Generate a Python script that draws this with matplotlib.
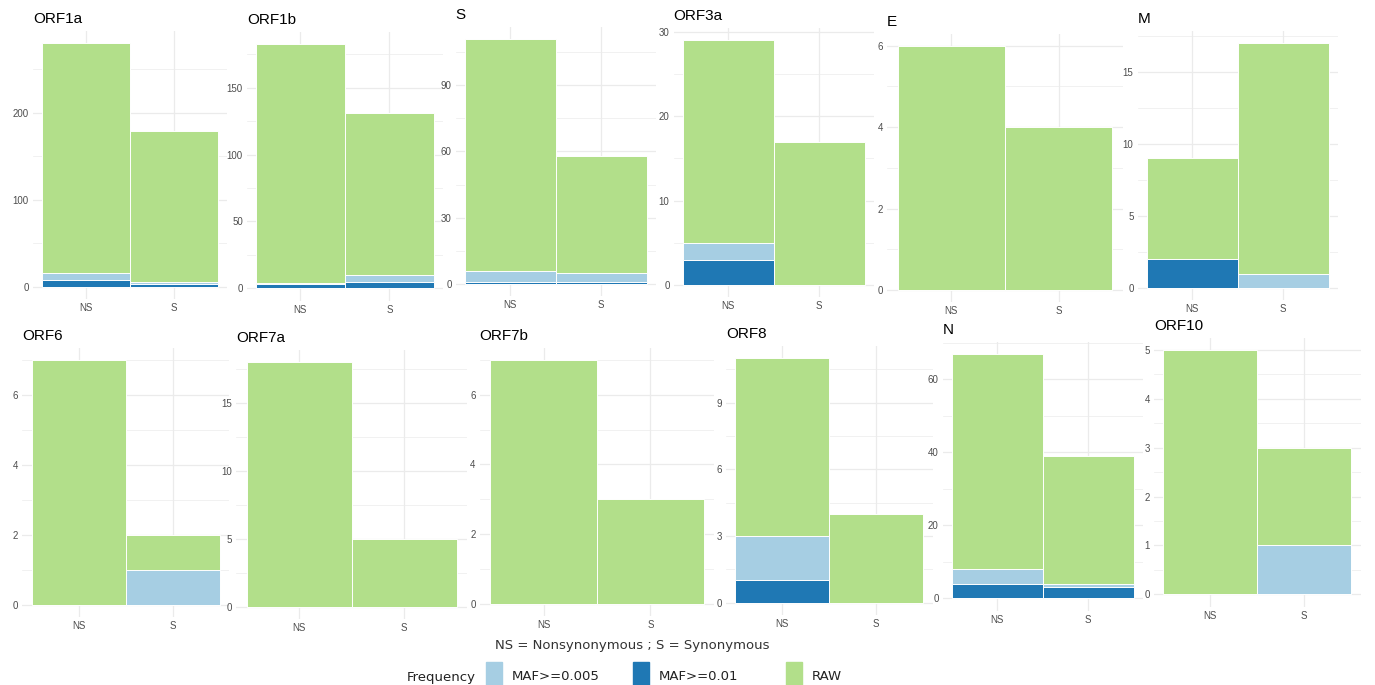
import numpy as np
import matplotlib
matplotlib.use("Agg")
import matplotlib.pyplot as plt
from matplotlib.patches import Rectangle

# ============================================================
# DATA  (variant counts per gene, NS / S)
# ============================================================

genes = ["ORF1a", "ORF1b", "S", "ORF3a", "E", "M",
         "ORF6", "ORF7a", "ORF7b", "ORF8", "N", "ORF10"]
classes = ["NS", "S"]

raw_ns = [280, 183, 111, 29, 6, 9, 7, 18, 7, 11, 67, 5]
raw_s = [179, 131, 58, 17, 4, 17, 2, 5, 3, 4, 39, 3]
maf005_ns = [16, 4, 6, 5, 0, 2, 0, 0, 0, 3, 8, 0]
maf005_s = [5, 10, 5, 0, 0, 1, 1, 0, 0, 0, 4, 1]
maf01_ns = [8, 3, 1, 3, 0, 2, 0, 0, 0, 1, 4, 0]
maf01_s = [3, 5, 1, 0, 0, 0, 0, 0, 0, 0, 3, 0]

legend_labels = ["MAF>=0.005", "MAF>=0.01", "RAW"]

# y breaks per panel (like ggplot picks them)
ybreaks = {
    "ORF1a": [0, 100, 200], "ORF1b": [0, 50, 100, 150], "S": [0, 30, 60, 90],
    "ORF3a": [0, 10, 20, 30], "E": [0, 2, 4, 6], "M": [0, 5, 10, 15],
    "ORF6": [0, 2, 4, 6], "ORF7a": [0, 5, 10, 15], "ORF7b": [0, 2, 4, 6],
    "ORF8": [0, 3, 6, 9], "N": [0, 20, 40, 60], "ORF10": [0, 1, 2, 3, 4, 5],
}

# ============================================================
# LAYOUT (panel boxes in pixels: left, right, top, bottom)
# ============================================================

W, H = 1375, 685
boxes = [
    (33, 227, 31, 299), (247, 442.7, 31.5, 300.5), (455.7, 655.9, 26.7, 296),
    (673.7, 873.9, 28, 297.2), (886.9, 1123.1, 33.5, 302.2), (1137.7, 1337.9, 31.1, 300.2),
    (22.3, 229.1, 347.8, 616.9), (236.3, 467.3, 349.8, 618.9), (479.7, 714.3, 347.5, 616.2),
    (725.9, 932.7, 346.1, 614.9), (942.7, 1142.9, 341.5, 610.5), (1153.9, 1360.7, 337.8, 606.5),
]

col_light = "#A6CEE3"
col_dark = "#1F78B4"
col_green = "#B2DF8A"
grid_col = "#EBEBEB"
tick_col = "#4D4D4D"

fig = plt.figure(figsize=(W / 100, H / 100), dpi=100)


def fx(x):
    return x / W


def fy(y):
    return 1 - y / H


x = np.array([1, 2])
for k, g in enumerate(genes):
    L, R, T, B = boxes[k]
    ax = fig.add_axes([fx(L), fy(B), (R - L) / W, (B - T) / H])

    raw = np.array([raw_ns[k], raw_s[k]])
    m005 = np.array([maf005_ns[k], maf005_s[k]])
    m01 = np.array([maf01_ns[k], maf01_s[k]])
    top = raw.max()

    for vals, c in [(raw, col_green), (m005, col_light), (m01, col_dark)]:
        keep = vals > 0
        ax.bar(x[keep], vals[keep], width=1.0, color=c, edgecolor="white",
               linewidth=0.7, zorder=3)

    ax.set_xlim(0.4, 2.6)
    ax.set_ylim(-0.05 * top, 1.05 * top)

    br = ybreaks[g]
    step = br[1] - br[0]
    ax.set_yticks(br)
    minors = np.arange(br[0] + step / 2, 1.05 * top, step)
    ax.set_yticks(minors, minor=True)
    ax.set_xticks(x)
    ax.set_xticklabels(classes)

    ax.grid(True, which="major", color=grid_col, linewidth=0.9, zorder=0)
    ax.grid(True, which="minor", axis="y", color=grid_col, linewidth=0.5, zorder=0)
    for s in ax.spines.values():
        s.set_visible(False)
    ax.tick_params(which="both", length=0, labelsize=7, labelcolor=tick_col)
    ax.tick_params(axis="y", pad=3)
    ax.tick_params(axis="x", pad=3)
    for lab in ax.get_xticklabels() + ax.get_yticklabels():
        lab.set_family("Liberation Sans")
    ax.set_title(g, loc="left", pad=5.5, fontsize=11, family="Liberation Sans")

# ============================================================
# CAPTION + LEGEND
# ============================================================

fig.text(fx(632.5), fy(646), "NS = Nonsynonymous ; S = Synonymous",
         ha="center", va="center", fontsize=9.5, color="#333333", family="DejaVu Sans")

fig.text(fx(406.7), fy(678), "Frequency", ha="left", va="center",
         fontsize=9.5, color="#222222", family="DejaVu Sans")
for px, c, lab in zip([486, 632.7, 786], [col_light, col_dark, col_green], legend_labels):
    fig.patches.append(Rectangle((fx(px), fy(692)), 16 / W, 30 / H,
                                 transform=fig.transFigure, color=c))
    fig.text(fx(px + 26), fy(676), lab, ha="left", va="center",
             fontsize=9.5, color="#222222", family="DejaVu Sans")

fig.savefig("out.png", dpi=100)
